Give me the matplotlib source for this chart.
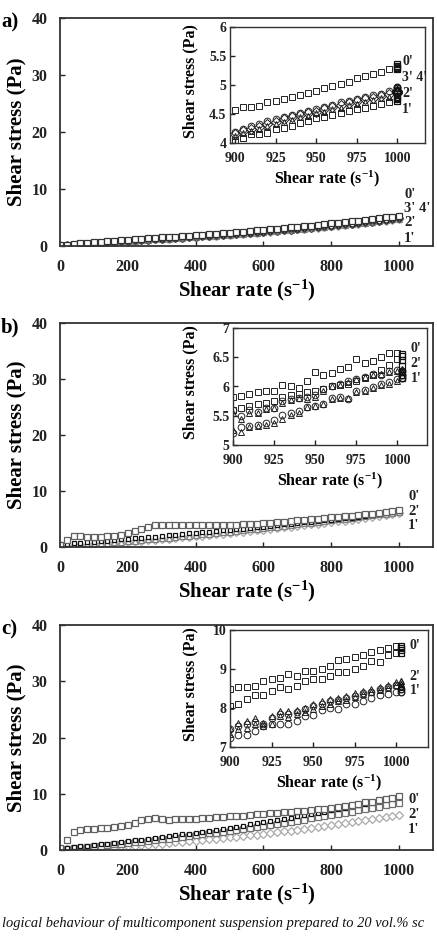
import matplotlib
matplotlib.use("Agg")
import matplotlib.pyplot as plt

plt.rcParams["font.family"] = ["Liberation Serif", "DejaVu Serif"]
plt.rcParams["font.weight"] = "bold"
plt.rcParams["mathtext.default"] = "regular"

W, H = 437, 946

# ---------------- data ----------------
SHEAR_RATE = list(range(0, 1001, 20))
INSET_RATE = list(range(900, 1001, 5))

XTICKS_MAIN = [0, 200, 400, 600, 800, 1000]
YTICKS_MAIN = [0, 10, 20, 30, 40]
XTICKS_INSET = [900, 925, 950, 975, 1000]
YTICKS_A = [4, 4.5, 5, 5.5, 6]
YTICKS_B = [5, 5.5, 6, 6.5, 7]
YTICKS_C = [7, 8, 9, 10]

# panel a, main plot
A_MAIN_0 = [0.10, 0.22, 0.34, 0.45, 0.56, 0.66, 0.76, 0.85, 0.94, 1.02,
            1.10, 1.18, 1.26, 1.34, 1.42, 1.50, 1.58, 1.66, 1.74, 1.82,
            1.90, 1.98, 2.07, 2.15, 2.24, 2.33, 2.42, 2.52, 2.62, 2.72,
            2.82, 2.92, 3.03, 3.14, 3.25, 3.36, 3.47, 3.59, 3.71, 3.83,
            3.95, 4.07, 4.19, 4.32, 4.45, 4.58, 4.72, 4.86, 5.01, 5.16, 5.30]
A_MAIN_1 = [0.05, 0.15, 0.24, 0.33, 0.42, 0.50, 0.58, 0.65, 0.73, 0.80,
            0.87, 0.94, 1.01, 1.09, 1.16, 1.23, 1.30, 1.38, 1.45, 1.53,
            1.60, 1.68, 1.76, 1.84, 1.92, 2.00, 2.08, 2.17, 2.25, 2.34,
            2.43, 2.52, 2.62, 2.72, 2.82, 2.92, 3.02, 3.13, 3.24, 3.35,
            3.46, 3.58, 3.70, 3.82, 3.94, 4.06, 4.19, 4.33, 4.46, 4.60, 4.73]
A_MAIN_2 = [0.04, 0.13, 0.22, 0.31, 0.40, 0.49, 0.57, 0.65, 0.73, 0.80,
            0.87, 0.94, 1.01, 1.08, 1.16, 1.23, 1.30, 1.38, 1.45, 1.53,
            1.60, 1.68, 1.76, 1.84, 1.92, 2.00, 2.09, 2.18, 2.27, 2.36,
            2.45, 2.55, 2.65, 2.75, 2.85, 2.95, 3.06, 3.17, 3.28, 3.39,
            3.50, 3.62, 3.74, 3.86, 3.99, 4.12, 4.25, 4.39, 4.53, 4.67, 4.80]
A_MAIN_3 = [0.06, 0.16, 0.26, 0.36, 0.45, 0.54, 0.62, 0.70, 0.78, 0.86,
            0.93, 1.00, 1.08, 1.15, 1.23, 1.30, 1.38, 1.45, 1.53, 1.60,
            1.68, 1.76, 1.84, 1.92, 2.00, 2.08, 2.17, 2.26, 2.35, 2.44,
            2.53, 2.63, 2.73, 2.83, 2.93, 3.03, 3.14, 3.25, 3.36, 3.47,
            3.58, 3.70, 3.82, 3.94, 4.06, 4.19, 4.33, 4.47, 4.62, 4.77, 4.92]
A_MAIN_4 = [0.05, 0.15, 0.24, 0.34, 0.43, 0.51, 0.59, 0.67, 0.75, 0.83,
            0.90, 0.97, 1.04, 1.12, 1.19, 1.26, 1.34, 1.41, 1.49, 1.56,
            1.64, 1.72, 1.80, 1.88, 1.96, 2.04, 2.13, 2.22, 2.31, 2.40,
            2.49, 2.59, 2.69, 2.79, 2.89, 2.99, 3.10, 3.21, 3.32, 3.43,
            3.54, 3.66, 3.78, 3.90, 4.02, 4.15, 4.29, 4.43, 4.58, 4.73, 4.87]

# panel a, inset (900-1000 s-1)
A_INSET_0 = [4.57, 4.62, 4.62, 4.64, 4.70, 4.73, 4.76, 4.80, 4.83, 4.87, 4.90,
             4.95, 4.98, 5.02, 5.06, 5.12, 5.15, 5.19, 5.23, 5.27, 5.31]
A_INSET_1 = [4.06, 4.09, 4.15, 4.15, 4.17, 4.24, 4.26, 4.29, 4.34, 4.38, 4.43,
             4.45, 4.48, 4.51, 4.55, 4.58, 4.61, 4.63, 4.67, 4.70, 4.73]
A_INSET_2 = [4.12, 4.17, 4.21, 4.25, 4.29, 4.33, 4.37, 4.40, 4.44, 4.47, 4.51,
             4.54, 4.58, 4.61, 4.65, 4.68, 4.71, 4.74, 4.77, 4.80, 4.83]
A_INSET_3 = [4.19, 4.25, 4.29, 4.32, 4.38, 4.41, 4.45, 4.48, 4.52, 4.55, 4.58,
             4.62, 4.66, 4.70, 4.73, 4.76, 4.79, 4.82, 4.85, 4.89, 4.92]
A_INSET_4 = [4.15, 4.21, 4.24, 4.28, 4.33, 4.37, 4.41, 4.44, 4.48, 4.51, 4.54,
             4.58, 4.62, 4.65, 4.69, 4.72, 4.75, 4.78, 4.81, 4.85, 4.88]
A_HOLD_RATE = 1000
A_HOLD_0 = [5.27, 5.30, 5.33, 5.36]
A_HOLD_1 = [4.72, 4.76, 4.80]
A_HOLD_2 = [4.78, 4.82]
A_HOLD_3 = [4.90, 4.94, 4.97]
A_HOLD_4 = [4.86, 4.90]

# panel b, main plot
B_MAIN_0_UP = [0.30, 1.20, 1.90, 1.90, 1.80, 1.80, 1.85, 1.90, 2.00, 2.20,
               2.45, 2.80, 3.20, 3.60, 3.85, 3.85, 3.85, 3.85, 3.85, 3.85,
               3.88, 3.88, 3.90, 3.90, 3.92, 3.95, 3.98, 4.02, 4.08, 4.15,
               4.22, 4.32, 4.42, 4.53, 4.64, 4.75, 4.86, 4.97, 5.08, 5.19,
               5.30, 5.40, 5.50, 5.60, 5.70, 5.82, 5.88, 6.00, 6.20, 6.40, 6.58]
B_MAIN_0_DOWN = [0.45, 0.55, 0.65, 0.75, 0.85, 0.95, 1.05, 1.15, 1.25, 1.35,
                 1.45, 1.55, 1.65, 1.76, 1.87, 1.98, 2.09, 2.20, 2.31, 2.42,
                 2.53, 2.64, 2.75, 2.86, 2.97, 3.08, 3.19, 3.30, 3.42, 3.54,
                 3.66, 3.78, 3.90, 4.02, 4.14, 4.26, 4.38, 4.50, 4.62, 4.74,
                 4.86, 4.99, 5.12, 5.25, 5.40, 5.60, 5.72, 5.88, 6.05, 6.25, 6.47]
B_MAIN_2 = [0.10, 0.19, 0.28, 0.37, 0.46, 0.56, 0.65, 0.75, 0.85, 0.95,
            1.05, 1.16, 1.26, 1.37, 1.47, 1.58, 1.69, 1.80, 1.92, 2.03,
            2.15, 2.27, 2.38, 2.51, 2.63, 2.75, 2.87, 3.00, 3.13, 3.26,
            3.39, 3.52, 3.65, 3.79, 3.92, 4.06, 4.20, 4.34, 4.48, 4.63,
            4.77, 4.92, 5.07, 5.22, 5.37, 5.52, 5.67, 5.83, 5.98, 6.14, 6.30]
B_MAIN_1 = [0.05, 0.12, 0.20, 0.28, 0.36, 0.45, 0.54, 0.63, 0.72, 0.81,
            0.90, 1.00, 1.10, 1.20, 1.30, 1.40, 1.50, 1.60, 1.71, 1.82,
            1.93, 2.04, 2.15, 2.26, 2.38, 2.50, 2.62, 2.74, 2.86, 2.98,
            3.10, 3.23, 3.36, 3.49, 3.62, 3.75, 3.88, 4.02, 4.16, 4.30,
            4.44, 4.58, 4.72, 4.87, 5.02, 5.20, 5.35, 5.52, 5.70, 5.88, 6.08]

# panel b, inset
B_INSET_0_UP = [5.82, 5.84, 5.87, 5.90, 5.92, 5.93, 6.03, 6.00, 5.98, 6.09, 6.25,
                6.20, 6.23, 6.30, 6.33, 6.47, 6.40, 6.44, 6.50, 6.57, 6.58]
B_INSET_0_DOWN = [5.60, 5.64, 5.67, 5.70, 5.72, 5.75, 5.82, 5.85, 5.87, 5.90, 5.93,
                  5.96, 6.00, 6.02, 6.05, 6.10, 6.15, 6.20, 6.28, 6.36, 6.47]
B_INSET_2_UP = [5.55, 5.45, 5.55, 5.55, 5.62, 5.63, 5.72, 5.77, 5.80, 5.78, 5.82,
                5.92, 6.00, 6.02, 6.08, 6.12, 6.16, 6.20, 6.22, 6.25, 6.27]
B_INSET_2_DOWN = [5.25, 5.22, 5.30, 5.33, 5.35, 5.37, 5.45, 5.52, 5.55, 5.65, 5.66,
                  5.70, 5.78, 5.80, 5.80, 5.90, 5.93, 5.98, 6.03, 6.05, 6.10]
B_INSET_1_UP = [5.60, 5.50, 5.60, 5.56, 5.63, 5.64, 5.76, 5.78, 5.81, 5.82, 5.85,
                5.95, 6.00, 6.04, 6.10, 6.13, 6.17, 6.22, 6.19, 6.26, 6.28]
B_INSET_1_DOWN = [5.20, 5.30, 5.33, 5.34, 5.37, 5.43, 5.52, 5.55, 5.58, 5.65, 5.66,
                  5.70, 5.80, 5.82, 5.79, 5.92, 5.94, 5.99, 6.05, 6.07, 6.12]
B_HOLD_RATE = 1003
B_HOLD_0 = [6.15, 6.25, 6.35, 6.45, 6.52, 6.56]
B_HOLD_2 = [6.20, 6.25, 6.30]
B_HOLD_1 = [6.15, 6.20, 6.27]

# panel c, main plot
C_MAIN_0_UP = [0.30, 1.80, 3.20, 3.50, 3.70, 3.80, 3.90, 4.00, 4.15, 4.30,
               4.50, 4.85, 5.30, 5.60, 5.65, 5.45, 5.40, 5.45, 5.50, 5.55,
               5.60, 5.65, 5.72, 5.80, 5.88, 5.96, 6.04, 6.12, 6.22, 6.32,
               6.42, 6.52, 6.62, 6.72, 6.82, 6.92, 7.02, 7.12, 7.22, 7.32,
               7.42, 7.60, 7.80, 8.00, 8.25, 8.49, 8.57, 8.83, 9.00, 9.30, 9.60]
C_MAIN_0_DOWN = [0.30, 0.41, 0.53, 0.64, 0.76, 0.89, 1.01, 1.14, 1.27, 1.41,
                 1.55, 1.69, 1.83, 1.98, 2.13, 2.28, 2.44, 2.60, 2.76, 2.92,
                 3.09, 3.26, 3.44, 3.61, 3.79, 3.98, 4.16, 4.35, 4.54, 4.74,
                 4.93, 5.13, 5.34, 5.54, 5.75, 5.96, 6.18, 6.40, 6.62, 6.84,
                 7.07, 7.30, 7.53, 7.77, 8.01, 8.25, 8.49, 8.74, 8.99, 9.24, 9.50]
C_MAIN_2 = [0.10, 0.20, 0.31, 0.41, 0.52, 0.63, 0.75, 0.86, 0.98, 1.11,
            1.23, 1.36, 1.49, 1.62, 1.76, 1.90, 2.04, 2.18, 2.33, 2.48,
            2.63, 2.78, 2.94, 3.10, 3.26, 3.43, 3.59, 3.76, 3.94, 4.11,
            4.29, 4.47, 4.65, 4.84, 5.03, 5.22, 5.41, 5.61, 5.81, 6.01,
            6.21, 6.42, 6.63, 6.84, 7.06, 7.27, 7.49, 7.72, 7.94, 8.17, 8.40]
C_MAIN_1 = [0.05, 0.10, 0.16, 0.22, 0.28, 0.35, 0.41, 0.48, 0.56, 0.63,
            0.71, 0.79, 0.88, 0.97, 1.06, 1.15, 1.25, 1.34, 1.45, 1.55,
            1.66, 1.77, 1.88, 2.00, 2.12, 2.24, 2.36, 2.49, 2.62, 2.75,
            2.89, 3.03, 3.17, 3.31, 3.46, 3.61, 3.76, 3.92, 4.08, 4.24,
            4.40, 4.57, 4.74, 4.91, 5.09, 5.27, 5.45, 5.63, 5.82, 6.01, 6.20]

# panel c, inset
C_INSET_0_UP = [8.49, 8.55, 8.55, 8.57, 8.68, 8.74, 8.76, 8.88, 8.83, 8.96, 8.96,
                9.00, 9.08, 9.24, 9.26, 9.30, 9.35, 9.44, 9.50, 9.54, 9.58]
C_INSET_0_DOWN = [8.04, 8.10, 8.23, 8.33, 8.33, 8.44, 8.53, 8.49, 8.57, 8.70, 8.74,
                  8.74, 8.83, 8.92, 8.92, 9.00, 9.08, 9.20, 9.17, 9.35, 9.42]
C_INSET_2_UP = [7.50, 7.62, 7.66, 7.75, 7.62, 7.79, 7.92, 7.92, 7.96, 8.00, 8.10,
                8.18, 8.22, 8.26, 8.30, 8.38, 8.44, 8.48, 8.53, 8.60, 8.67]
C_INSET_2_DOWN = [7.33, 7.45, 7.50, 7.60, 7.55, 7.60, 7.80, 7.78, 7.84, 7.90, 7.98,
                  8.05, 8.10, 8.18, 8.20, 8.28, 8.35, 8.40, 8.45, 8.52, 8.60]
C_INSET_1_UP = [7.45, 7.55, 7.60, 7.65, 7.60, 7.75, 7.85, 7.85, 7.90, 7.98, 8.05,
                8.10, 8.18, 8.20, 8.25, 8.32, 8.38, 8.42, 8.48, 8.55, 8.60]
C_INSET_1_DOWN = [7.24, 7.32, 7.32, 7.40, 7.53, 7.60, 7.60, 7.60, 7.66, 7.80, 7.83,
                  7.96, 8.00, 7.98, 8.10, 8.10, 8.17, 8.26, 8.33, 8.35, 8.40]
C_HOLD_RATE = 1003
C_HOLD_0 = [9.40, 9.50, 9.55, 9.60]
C_HOLD_2 = [8.55, 8.62, 8.70]
C_HOLD_1 = [8.40, 8.50]

CAPTION = "logical behaviour of multicomponent suspension prepared to 20 vol.% sc"

# ---------------- helpers ----------------
fig = plt.figure(figsize=(W / 100, H / 100), dpi=100)


def px_axes(l, t, r, b):
    return fig.add_axes([l / W, 1 - b / H, (r - l) / W, (b - t) / H])


XLABEL = "Shear rate (s$^{-1}$)"
YLABEL = "Shear stress (Pa)"


def style_axes(ax, box, xlim, ylim, xticks, yticks, yfmt, tsize, lsize_x, lsize_y,
               ylab_px, xlab_px, xpad, ypad, lw):
    l, t, r, b = box
    ax.set_xlim(*xlim)
    ax.set_ylim(*ylim)
    ax.set_xticks(xticks)
    ax.set_yticks(yticks)
    ax.set_yticklabels([yfmt(v) for v in yticks])
    ax.tick_params(direction="in", length=3.5, width=1.0, labelsize=tsize,
                   colors="#222222")
    ax.tick_params(axis="x", pad=xpad)
    ax.tick_params(axis="y", pad=ypad)
    for s in ax.spines.values():
        s.set_linewidth(lw)
        s.set_color("#333333")
    ax.set_xlabel(XLABEL, fontsize=lsize_x, fontweight="bold", va="center", ha="center")
    ax.set_ylabel(YLABEL, fontsize=lsize_y, fontweight="bold", va="center", ha="center")
    # label centres given in figure pixels
    ax.xaxis.set_label_coords(((l + r) / 2 - l) / (r - l), (b - xlab_px) / (b - t))
    ax.yaxis.set_label_coords((ylab_px[0] - l) / (r - l), (b - ylab_px[1]) / (b - t))


def fmt_int(v):
    return "%g" % v


def draw_main(ax, series):
    for y, mk, ec, ms in series:
        ax.plot(SHEAR_RATE, y, linestyle="none", marker=mk, ms=ms,
                mfc="white", mec=ec, mew=0.9)


def draw_inset(ax, series, hold_rate, holds):
    for y, mk in series:
        ax.plot(INSET_RATE, y, linestyle="none", marker=mk, ms=4.8,
                mfc="none", mec="#222222", mew=0.7)
    for y, mk in holds:
        ax.plot([hold_rate] * len(y), y, linestyle="none", marker=mk, ms=4.8,
                mfc="none", mec="#111111", mew=0.9)


def add_labels(ax, x, items, size):
    for txt, y in items:
        ax.text(x, y, txt, fontsize=size, fontweight="bold", va="center",
                ha="left", color="#222222")


MAIN_BOXES = [(60, 18, 433, 246), (60, 323, 433, 547), (60, 625, 433, 850)]
INSET_BOXES = [(230, 27, 425, 143), (233, 328, 427, 445), (230, 630, 428, 747)]
PANEL_TAGS = ["a)", "b)", "c)"]

main_series = [
    [(A_MAIN_1, "D", "#aaaaaa", 4.2), (A_MAIN_2, "^", "#808080", 4.2),
     (A_MAIN_4, "D", "#4a4a4a", 4.0), (A_MAIN_3, "o", "#1a1a1a", 3.6),
     (A_MAIN_0, "s", "#333333", 4.4)],
    [(B_MAIN_1, "D", "#aaaaaa", 4.4), (B_MAIN_2, "^", "#808080", 4.2),
     (B_MAIN_0_DOWN, "s", "#111111", 3.0), (B_MAIN_0_UP, "s", "#606060", 4.8)],
    [(C_MAIN_1, "D", "#aaaaaa", 4.4), (C_MAIN_2, "s", "#707070", 4.6),
     (C_MAIN_0_DOWN, "s", "#111111", 3.0), (C_MAIN_0_UP, "s", "#606060", 4.8)],
]
main_labels = [
    (1015, [("0'", 9.1), ("3' 4'", 6.5), ("2'", 4.1), ("1'", 1.35)]),
    (1027, [("0'", 9.0), ("2'", 6.35), ("1'", 3.8)]),
    (1027, [("0'", 8.9), ("2'", 6.3), ("1'", 3.7)]),
]
inset_series = [
    [(A_INSET_0, "s"), (A_INSET_1, "s"), (A_INSET_2, "^"), (A_INSET_3, "o"), (A_INSET_4, "D")],
    [(B_INSET_0_UP, "s"), (B_INSET_0_DOWN, "s"), (B_INSET_2_UP, "^"), (B_INSET_2_DOWN, "^"),
     (B_INSET_1_UP, "o"), (B_INSET_1_DOWN, "o")],
    [(C_INSET_0_UP, "s"), (C_INSET_0_DOWN, "s"), (C_INSET_2_UP, "^"), (C_INSET_2_DOWN, "^"),
     (C_INSET_1_UP, "o"), (C_INSET_1_DOWN, "o")],
]
inset_holds = [
    (A_HOLD_RATE, [(A_HOLD_0, "s"), (A_HOLD_1, "s"), (A_HOLD_2, "^"), (A_HOLD_3, "o"), (A_HOLD_4, "D")]),
    (B_HOLD_RATE, [(B_HOLD_0, "s"), (B_HOLD_2, "^"), (B_HOLD_1, "o")]),
    (C_HOLD_RATE, [(C_HOLD_0, "s"), (C_HOLD_2, "^"), (C_HOLD_1, "o")]),
]
inset_labels = [
    (1003, [("0'", 5.40), ("3' 4'", 5.13), ("2'", 4.86), ("1'", 4.58)]),
    (1008, [("0'", 6.65), ("2'", 6.40), ("1'", 6.13)]),
    (1008, [("0'", 9.60), ("2'", 8.82), ("1'", 8.44)]),
]
inset_xlims = [(897, 1017), (900, 1018), (900, 1019)]
inset_ylims = [(4, 6), (5, 7), (7, 10)]
inset_yticks = [YTICKS_A, YTICKS_B, YTICKS_C]

for i in range(3):
    mb = MAIN_BOXES[i]
    ax = px_axes(*mb)
    draw_main(ax, main_series[i])
    style_axes(ax, mb, (0, 1100), (0, 40), XTICKS_MAIN, YTICKS_MAIN, fmt_int,
               11.5, 15, 15, (16, (mb[1] + mb[3]) / 2), mb[3] + 44.5, 9, 9, 1.3)
    lx, items = main_labels[i]
    add_labels(ax, lx, items, 10.5)
    fig.text(1 / W, 1 - (mb[1] + 4) / H, PANEL_TAGS[i], fontsize=15,
             fontweight="bold", ha="left", va="center")

    ib = INSET_BOXES[i]
    axi = px_axes(*ib)
    axi.set_zorder(5)
    axi.set_facecolor("white")
    draw_inset(axi, inset_series[i], *inset_holds[i])
    style_axes(axi, ib, inset_xlims[i], inset_ylims[i], XTICKS_INSET,
               inset_yticks[i], fmt_int, 10, 11.5, 11.5,
               (190, (ib[1] + ib[3]) / 2 - 4), ib[3] + 36, 6.5, 2.5, 1.0)
    lx, items = inset_labels[i]
    add_labels(axi, lx, items, 10)

fig.text(1.5 / W, 1 - 923 / H, CAPTION, fontsize=10.4, style="italic",
         fontweight="normal", ha="left", va="center", color="#111111")

fig.savefig("out.png", dpi=100)
